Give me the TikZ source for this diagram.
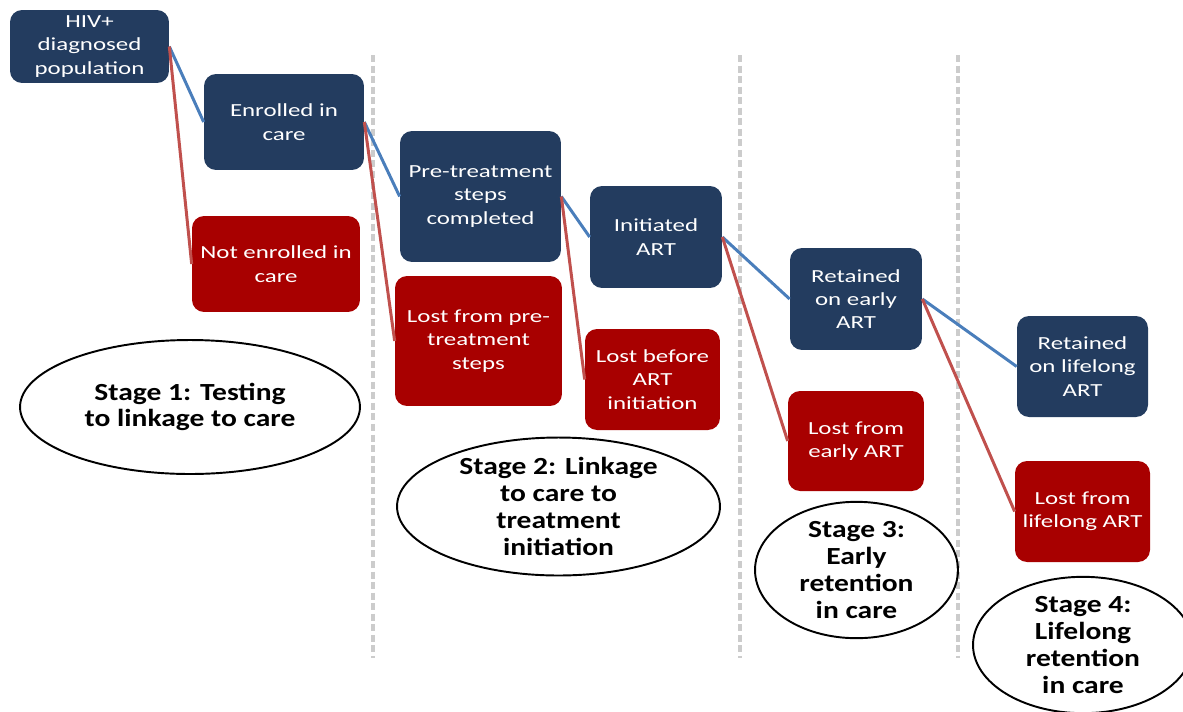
\documentclass[tikz,border=0pt]{standalone}
\usepackage{fontspec}
\setmainfont{Carlito}
\newfontfamily\boxfont[FakeStretch=1.35]{Carlito}
\newfontfamily\stagefont[FakeStretch=1.2]{Carlito}
\usepackage{tikz}
\usetikzlibrary{shapes.geometric}

\definecolor{stepblue}{RGB}{35,60,95}
\definecolor{lostred}{RGB}{168,0,0}
\definecolor{keepline}{RGB}{74,126,187}
\definecolor{lossline}{RGB}{192,80,77}

\begin{document}
\begin{tikzpicture}[x=0.02cm, y=-0.02cm,
    stepbox/.style={rectangle, rounded corners=0.24cm, fill=stepblue, text=white,
        align=center, inner sep=0pt, font=\boxfont\fontsize{10.5}{13.3}\selectfont},
    lostbox/.style={stepbox, fill=lostred},
    stagebubble/.style={ellipse, draw, line width=1.1pt, align=center, inner sep=0pt,
        font=\stagefont\bfseries\fontsize{14}{15.2}\selectfont},
    keep/.style={keepline, line width=1.7pt},
    loss/.style={lossline, line width=1.7pt},
    divider/.style={gray!40, line width=2.2pt, dash pattern=on 4pt off 2pt}]
    \useasboundingbox (0,0) rectangle (1183,711);

    % Dividers
    \draw[divider] (373,55) -- (373,658);
    \draw[divider] (740,55) -- (740,658);
    \draw[divider] (958,55) -- (958,658);

    % Nodes
    \node[stepbox, minimum width=3.18cm, minimum height=1.46cm] (S1) at (89.5,46.5) {HIV+\\diagnosed\\population};
    \node[stepbox, minimum width=3.2cm, minimum height=1.92cm] (S2) at (284,122) {Enrolled in\\care};
    \node[lostbox, minimum width=3.36cm, minimum height=1.92cm] (L2) at (276,264) {Not enrolled in\\care};
    \node[stepbox, minimum width=3.22cm, minimum height=2.62cm] (S3) at (480.5,196.5) {Pre-treatment\\steps\\completed};
    \node[lostbox, minimum width=3.34cm, minimum height=2.6cm] (L3) at (478.5,341) {Lost from pre-\\treatment\\steps};
    \node[stepbox, minimum width=2.64cm, minimum height=2.04cm] (S4) at (656,237) {Initiated\\ART};
    \node[lostbox, minimum width=2.7cm, minimum height=2.02cm] (L4) at (652.5,379.5) {Lost before\\ART\\initiation};
    \node[stepbox, minimum width=2.64cm, minimum height=2.04cm] (S5) at (856,299) {Retained\\on early\\ART};
    \node[lostbox, minimum width=2.72cm, minimum height=2cm] (L5) at (856,441) {Lost from\\early ART};
    \node[stepbox, minimum width=2.62cm, minimum height=2.02cm] (S6) at (1082.5,366.5) {Retained\\on lifelong\\ART};
    \node[lostbox, minimum width=2.7cm, minimum height=2.02cm] (L6) at (1082.5,511.5) {Lost from\\lifelong ART};

    % Stages
    \node[stagebubble, minimum width=6.8cm, minimum height=2.68cm] (G1) at (190,407) {Stage 1: Testing\\to linkage to care};
    \node[stagebubble, minimum width=6.46cm, minimum height=2.74cm] (G2) at (558.5,506.5) {Stage 2: Linkage\\to care to\\treatment\\initiation};
    \node[stagebubble, minimum width=4.06cm, minimum height=2.7cm] (G3) at (856.5,570) {Stage 3:\\Early\\retention\\in care};
    \node[stagebubble, minimum width=4.4cm, minimum height=2.72cm] (G4) at (1083,645) {Stage 4:\\Lifelong\\retention\\in care};

    % Lines
    \draw[keep] (S1.east) -- (S2.west);
    \draw[loss] (S1.east) -- (L2.west);
    \draw[keep] (S2.east) -- (S3.west);
    \draw[loss] (S2.east) -- (L3.west);
    \draw[keep] (S3.east) -- (S4.west);
    \draw[loss] (S3.east) -- (L4.west);
    \draw[keep] (S4.east) -- (S5.west);
    \draw[loss] (S4.east) -- (L5.west);
    \draw[keep] (S5.east) -- (S6.west);
    \draw[loss] (S5.east) -- (L6.west);
\end{tikzpicture}
\end{document}
